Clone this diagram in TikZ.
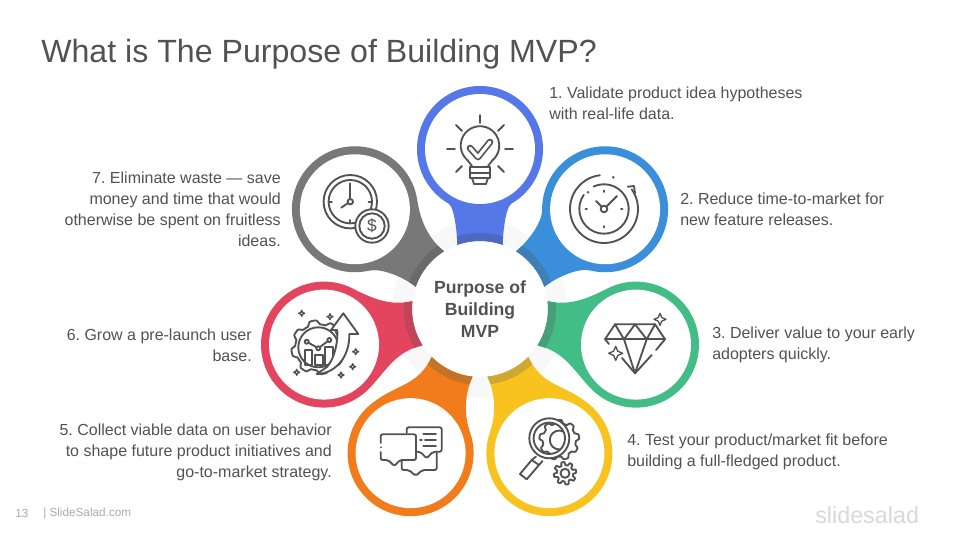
\documentclass[tikz,border=0pt]{standalone}
\usepackage{fontspec}
\setmainfont{Liberation Sans}
\frenchspacing
\usetikzlibrary{calc}
\definecolor{inkgray}{HTML}{525252}
\definecolor{ringgray}{HTML}{F8F8F8}
\definecolor{bluea}{HTML}{5577E8}\definecolor{blueadark}{HTML}{4F68C4}
\definecolor{blueb}{HTML}{3A8EDA}\definecolor{bluebdark}{HTML}{3F7EB6}
\definecolor{greenc}{HTML}{41BD85}\definecolor{greencdark}{HTML}{479F78}
\definecolor{yellowd}{HTML}{F8C31F}\definecolor{yellowddark}{HTML}{CFA733}
\definecolor{orangee}{HTML}{F27C1B}\definecolor{orangeedark}{HTML}{C47427}
\definecolor{redf}{HTML}{E2455D}\definecolor{redfdark}{HTML}{BF4659}
\definecolor{grayg}{HTML}{787878}\definecolor{graygdark}{HTML}{6A6A6A}
\tikzset{
	icon/.style={draw=inkgray, line width=1.4pt, line cap=round, line join=round},
	note/.style={text=inkgray, inner sep=0pt, font=\fontsize{12}{15.75}\selectfont},
	foot/.style={text=black!33, inner sep=0pt, font=\fontsize{8.8}{10}\selectfont},
}
\def\petaloutline{(\tipx,\tipy) .. controls (\tipx,\tipy+\lb) and (\cbx,\cby) .. (\pbx,\pby) arc (\angb:\anga:63) .. controls (\cax,\cay) and (-\tipx,\tipy+\la) .. (-\tipx,\tipy) arc (109.5:70.5:68) -- cycle}
\def\petal[#1,#2](#3:#4:#5){
	\begin{scope}[shift={(480,231)},rotate=#3]
		\pgfmathsetmacro\tipx{68*cos(70.5)}
		\pgfmathsetmacro\tipy{68*sin(70.5)}
		\pgfmathsetmacro\la{0.75*#4-15}
		\pgfmathsetmacro\lb{0.75*#5-15}
		\pgfmathsetmacro\anga{630-#4}
		\pgfmathsetmacro\angb{270+#5}
		\pgfmathsetmacro\pax{63*cos(\anga)}
		\pgfmathsetmacro\pay{160+63*sin(\anga)}
		\pgfmathsetmacro\pbx{63*cos(\angb)}
		\pgfmathsetmacro\pby{160+63*sin(\angb)}
		\pgfmathsetmacro\cax{\pax+\la*cos(#4)}
		\pgfmathsetmacro\cay{\pay-\la*sin(#4)}
		\pgfmathsetmacro\cbx{\pbx-\lb*cos(#5)}
		\pgfmathsetmacro\cby{\pby-\lb*sin(#5)}
		\fill[#1] \petaloutline;
		\begin{scope}
			\clip \petaloutline;
			\fill[#2] (0,0) circle (76);
		\end{scope}
		\fill[white] (0,160) circle (55);
	\end{scope}
}
\def\sparkle(#1,#2,#3){\draw[icon,fill=white,line width=1pt] (#1,#2+#3) -- (#1+0.3*#3,#2+0.3*#3) -- (#1+#3,#2) -- (#1+0.3*#3,#2-0.3*#3) -- (#1,#2-#3) -- (#1-0.3*#3,#2-0.3*#3) -- (#1-#3,#2) -- (#1-0.3*#3,#2+0.3*#3) -- cycle;}
\def\gearshape(#1,#2,#3,#4,#5){\draw[icon,fill=white] plot[domain=0:360,samples=121] ({#1+(#3+#4*min(1,max(-1,2*sin(#5*\x))))*cos(\x)},{#2+(#3+#4*min(1,max(-1,2*sin(#5*\x))))*sin(\x)}) -- cycle;}
\begin{document}
\begin{tikzpicture}[x=0.75pt,y=0.75pt]
	%%%%% START %%%%%
	\useasboundingbox (0,0) rectangle (960,540);
	\fill[white] (0,0) rectangle (960,540);
	
	\node[anchor=west, inner sep=0pt, text=inkgray, font=\fontsize{24.1}{28}\selectfont] (titlenode) at (41,486) {What is The Purpose of Building MVP?};
	
	\fill[ringgray] (480,231) circle (88);
	
	\petal[bluea,blueadark](0:30:30);
	\petal[blueb,bluebdark](-51.43:38:38);
	\petal[greenc,greencdark](-102.86:50:55);
	\petal[yellowd,yellowddark](-154.29:65:45);
	\petal[orangee,orangeedark](-205.71:45:65);
	\petal[redf,redfdark](-257.14:55:50);
	\petal[grayg,graygdark](-308.57:39:47);
	
	\fill[white] (480,231) circle (67.5);
	\node[align=center, text=inkgray, inner sep=0pt, font=\fontsize{13.2}{16.5}\selectfont\bfseries] (hubnode) at (480,231) {Purpose of\\Building\\MVP};
	
	% bulb
	\begin{scope}[shift={(480,391)}]
		\draw[icon] (-8,-17) -- (-12.4,-11.3) arc (230:-50:19.3) -- (8,-17);
		\draw[icon] (-10,-18) -- (10,-18);
		\draw[icon] (-10,-24) -- (10,-24);
		\draw[icon] (-10,-18) -- (-10,-29) -- (10,-29) -- (10,-18);
		\draw[icon] (-8,-29) -- (-6,-35) -- (6,-35) -- (8,-29);
		\draw[icon] (0,34) -- (0,26);
		\draw[icon] (-33,0) -- (-25,0);
		\draw[icon] (25,0) -- (33,0);
		\draw[icon] (-24,24) -- (-18,18);
		\draw[icon] (18,18) -- (24,24);
		\draw[icon] (-24,-23) -- (-18,-17);
		\draw[icon] (18,-17) -- (24,-23);
		\draw[inkgray, line width=5pt, line join=round, line cap=round] (-10,1) -- (-2,-8) -- (10,7);
		\draw[white, line width=2.4pt, line join=round, line cap=round] (-10,1) -- (-2,-8) -- (10,7);
	\end{scope}
	
	% clock with turning arrow
	\begin{scope}[shift={(604,331)}]
		\draw[icon] (97:34) arc (97:395:34);
		\draw[icon] (23.7,22.3) -- (30,23) -- (31,15.7);
		\fill[inkgray] (9.3,31.7) circle (1.4);
		\draw[icon] (145:24.7) arc (145:475:24.7);
		\fill[inkgray] (-16,16.7) circle (1.4);
		\draw[icon] (0,0) circle (3.3);
		\draw[icon] (-2.3,2.3) -- (-8,8);
		\draw[icon] (2.3,2.3) -- (13,13);
		\draw[icon] (0,17) -- (0,18.5);
		\draw[icon] (17,0) -- (18.5,0);
		\draw[icon] (0,-17) -- (0,-18.5);
		\draw[icon] (-17,0) -- (-18.5,0);
	\end{scope}
	
	% diamond
	\begin{scope}[shift={(636,196)}]
		\draw[icon] (19,19.7) -- (-21,19.7) -- (-31,4.7) -- (-27,0);
		\draw[icon] (-14,-14) -- (-1,-29.3) -- (15.7,-11);
		\draw[icon] (20,-6) -- (29,4.7) -- (19,19.7);
		\draw[icon] (-31,4.7) -- (29,4.7);
		\draw[icon] (-21,19.7) -- (-12,4.7) -- (-1,19.7) -- (10.7,4.7) -- (19,19.7);
		\draw[icon] (-12,4.7) -- (-1,-29.3) -- (10.7,4.7);
		\sparkle(24,24.7,6);
		\sparkle(-20.3,-9.3,7);
	\end{scope}
	
	% magnifier
	\begin{scope}[shift={(549,88)}]
		\gearshape(10.3,12,18.3,1.7,9);
		\draw[icon] (10.3,12) circle (9.5);
		\draw[icon,fill=white,even odd rule] (0.3,13.7) circle (20) (0.3,13.7) circle (15.7);
		\draw[icon] (-17.3,-8) -- (-29,-22) -- (-22.3,-27.3) -- (-10,-13) -- cycle;
		\draw[icon] (-13,-4.5) -- (-17.3,-8) (-10,-13) -- (-6.5,-9);
		\gearshape(16,-21.3,9.7,1.6,8);
		\draw[icon] (16,-21.3) circle (4.5);
	\end{scope}
	
	% chat bubbles
	\begin{scope}[shift={(411,88)}]
		\draw[icon,rounded corners=1.5pt] (-4.3,19) -- (-4.3,24.7) -- (30.7,24.7) -- (30.7,0.3) -- (22,0.3) -- (15.7,-6.3) -- (9,0.3) -- (5,0.3);
		\draw[icon] (12.3,18) -- (25,18);
		\draw[icon] (9,12) -- (11,12);
		\draw[icon] (14,12) -- (25,12);
		\draw[icon] (12.3,6) -- (25,6);
		\draw[icon,rounded corners=1.5pt] (25.7,0.3) -- (25.7,-18) -- (11.3,-18) -- (4.7,-24) -- (-2,-18) -- (-9.3,-18) -- (-9.3,-8);
		\draw[icon,rounded corners=1.5pt] (-30.3,0) -- (-30.3,-8) -- (-22.7,-8) -- (-16.7,-14) -- (-11,-8) -- (5,-8) -- (5,17.7) -- (-30.3,17.7) -- (-30.3,9);
		\draw[icon] (-30.3,4.5) -- (-30.3,4.6);
	\end{scope}
	
	% gear with rising arrow
	\begin{scope}[shift={(324,196)}]
		\gearshape(-5.7,-3.3,25,2,8);
		\draw[icon] (-5.7,-3.3) circle (20);
		\draw[icon] (-19,-21) rectangle (-12.3,-6);
		\draw[icon] (-9,-21) rectangle (-0.7,-11);
		\draw[icon] (1,-21) rectangle (9.3,-3);
		\draw[icon] (-17.3,2.3) -- (-5.7,-4.3) -- (5.3,4);
		\draw[icon,fill=white] (-17.3,2.3) circle (2);
		\draw[icon,fill=white] (-5.7,-4.3) circle (2);
		\draw[icon,fill=white] (5.3,4) circle (2);
		\draw[icon,fill=white] (-7.3,-30) .. controls (10,-30) and (26,-14) .. (25.3,10) -- (34.3,10) -- (19.3,30.7) -- (7,14) -- (13.3,14) .. controls (14,0) and (10,-15) .. (3,-23) -- cycle;
		\sparkle(-22.3,30.7,3);
		\sparkle(6,27.3,3);
		\sparkle(31.7,-7.7,3);
		\sparkle(28.7,-22.7,3);
		\sparkle(17,-31,3);
		\sparkle(-27.3,-28.3,3);
	\end{scope}
	
	% clock and coin
	\begin{scope}[shift={(356,331)}]
		\draw[icon] (-5.7,7.3) circle (26.7);
		\draw[icon] (-5.7,7.3) circle (21.7);
		\draw[icon] (-5.7,10) -- (-5.7,25.7);
		\draw[icon] (-8,6) -- (-14.7,1.3);
		\draw[icon] (-5.7,7.3) circle (2.7);
		\draw[icon] (15,7.3) -- (12.5,7.3);
		\draw[icon] (-26.5,7.3) -- (-24,7.3);
		\draw[icon] (-5.7,-13.5) -- (-5.7,-11);
		\draw[icon,fill=white] (16,-17) circle (16.7);
		\draw[icon] (16,-17) circle (12.7);
		\node[text=inkgray, inner sep=0pt, font=\fontsize{13}{15}\selectfont] (coinsign) at (16,-17) {\$};
	\end{scope}
	
	\node[note, anchor=west, align=left] (noteone) at (549,437) {1. Validate product idea hypotheses\\with real-life data.};
	\node[note, anchor=west, align=left] (notetwo) at (680,331) {2. Reduce time-to-market for\\new feature releases.};
	\node[note, anchor=west, align=left] (notethree) at (712,195) {3. Deliver value to your early\\adopters quickly.};
	\node[note, anchor=west, align=left] (notefour) at (627,88) {4. Test your product/market fit before\\building a full-fledged product.};
	\node[note, anchor=east, align=right] (notefive) at (332,88) {5. Collect viable data on user behavior\\to shape future product initiatives and\\go-to-market strategy.};
	\node[note, anchor=east, align=right] (notesix) at (252,195) {6. Grow a pre-launch user\\base.};
	\node[note, anchor=east, align=right] (noteseven) at (281,331) {7. Eliminate waste — save\\money and time that would\\otherwise be spent on fruitless\\ideas.};
	
	\node[foot, anchor=west] (pagenum) at (15,27) {13};
	\node[foot, anchor=west] (sitename) at (43,27) {| SlideSalad.com};
	\node[anchor=west, inner sep=0pt, text=black!15, font=\fontsize{17.5}{20}\selectfont] (brandname) at (815,25) {slidesalad};
	%%%%% END %%%%%
\end{tikzpicture}
\end{document}
